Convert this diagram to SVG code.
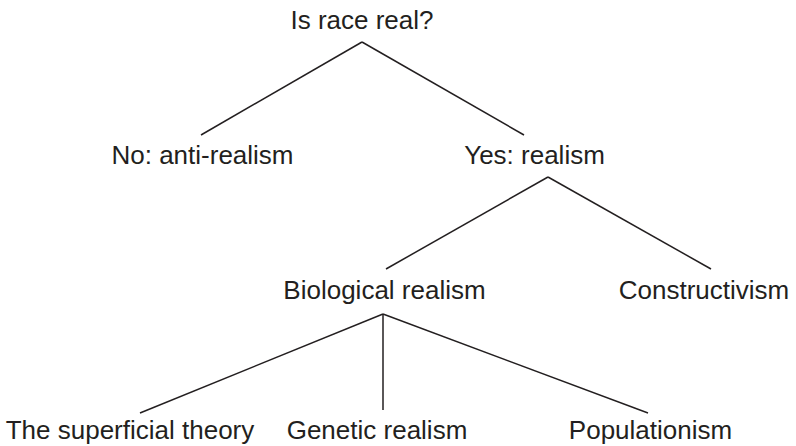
<svg xmlns="http://www.w3.org/2000/svg" width="796" height="446" viewBox="0 0 796 446">
<style>
.lbl{font-family:"Liberation Sans",Arial,sans-serif;font-size:26px;fill:#231f20;text-anchor:middle}
.edge{stroke:#231f20;stroke-width:1.5;fill:none}
</style>
<rect width="796" height="446" fill="#fff"/>
<g id="connectors">
<line class="edge" x1="362" y1="42" x2="201" y2="135"/>
<line class="edge" x1="362" y1="42" x2="524" y2="135"/>
<line class="edge" x1="548" y1="177" x2="386" y2="269"/>
<line class="edge" x1="548" y1="177" x2="711" y2="269"/>
<line class="edge" x1="383" y1="314" x2="140" y2="413"/>
<line class="edge" x1="383" y1="314" x2="383" y2="410"/>
<line class="edge" x1="383" y1="314" x2="648" y2="413"/>
</g>
<g id="n-root"><text class="lbl" x="362" y="29">Is race real?</text></g>
<g id="n-no"><text class="lbl" x="202.5" y="164">No: anti-realism</text></g>
<g id="n-yes"><text class="lbl" x="534.5" y="164">Yes: realism</text></g>
<g id="n-bio"><text class="lbl" x="384.5" y="299">Biological realism</text></g>
<g id="n-con"><text class="lbl" x="704" y="299">Constructivism</text></g>
<g id="n-sup"><text class="lbl" x="130" y="439">The superficial theory</text></g>
<g id="n-gen"><text class="lbl" x="377" y="439">Genetic realism</text></g>
<g id="n-pop"><text class="lbl" x="650.5" y="439">Populationism</text></g>
</svg>
